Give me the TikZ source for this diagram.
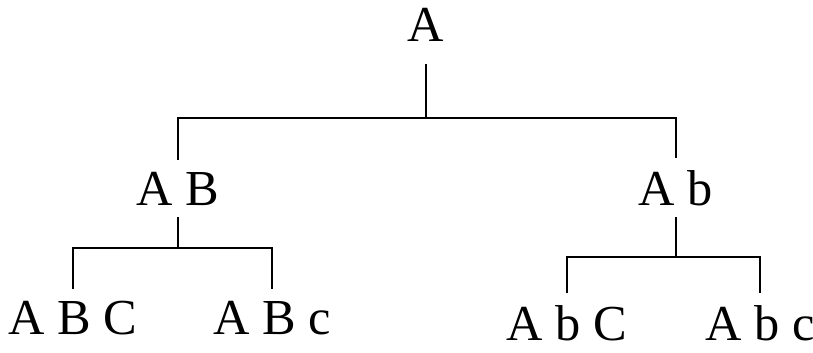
\documentclass[tikz,border=0pt]{standalone}
\usepackage{fontspec}
\setmainfont{Liberation Serif}

\begin{document}
\begin{tikzpicture}[
  x=0.03cm, y=-0.03cm,
  geno/.style={inner sep=0pt, outer ysep=10pt, anchor=base, font=\fontsize{43}{48}\selectfont},
  leaf/.style={geno, outer ysep=0pt},
  link/.style={line width=2.4pt}
]
\useasboundingbox (0,0) rectangle (813,352);
\node[geno] (A) at (426,41) {A};
\node[geno] (AB) at (178,205) {A B};
\node[geno] (Ab) at (676,205) {A b};
\node[leaf] (ABC) at (73,334) {A B C};
\node[leaf] (ABc) at (272,334) {A B c};
\node[leaf] (AbC) at (567,340) {A b C};
\node[leaf] (Abc) at (760,340) {A b c};
\coordinate (tA) at (426,118);
\coordinate (tB) at (178,248);
\coordinate (tb) at (676,257);
\draw[link, shorten <=10pt] (A) -- (tA);
\draw[link] (AB) |- (tA) -| (Ab);
\draw[link] (AB) -- (tB);
\draw[link, shorten <=10pt, shorten >=10pt] (ABC) |- (tB) -| (ABc);
\draw[link] (Ab) -- (tb);
\draw[link, shorten <=10pt, shorten >=10pt] (AbC) |- (tb) -| (Abc);
\end{tikzpicture}
\end{document}
